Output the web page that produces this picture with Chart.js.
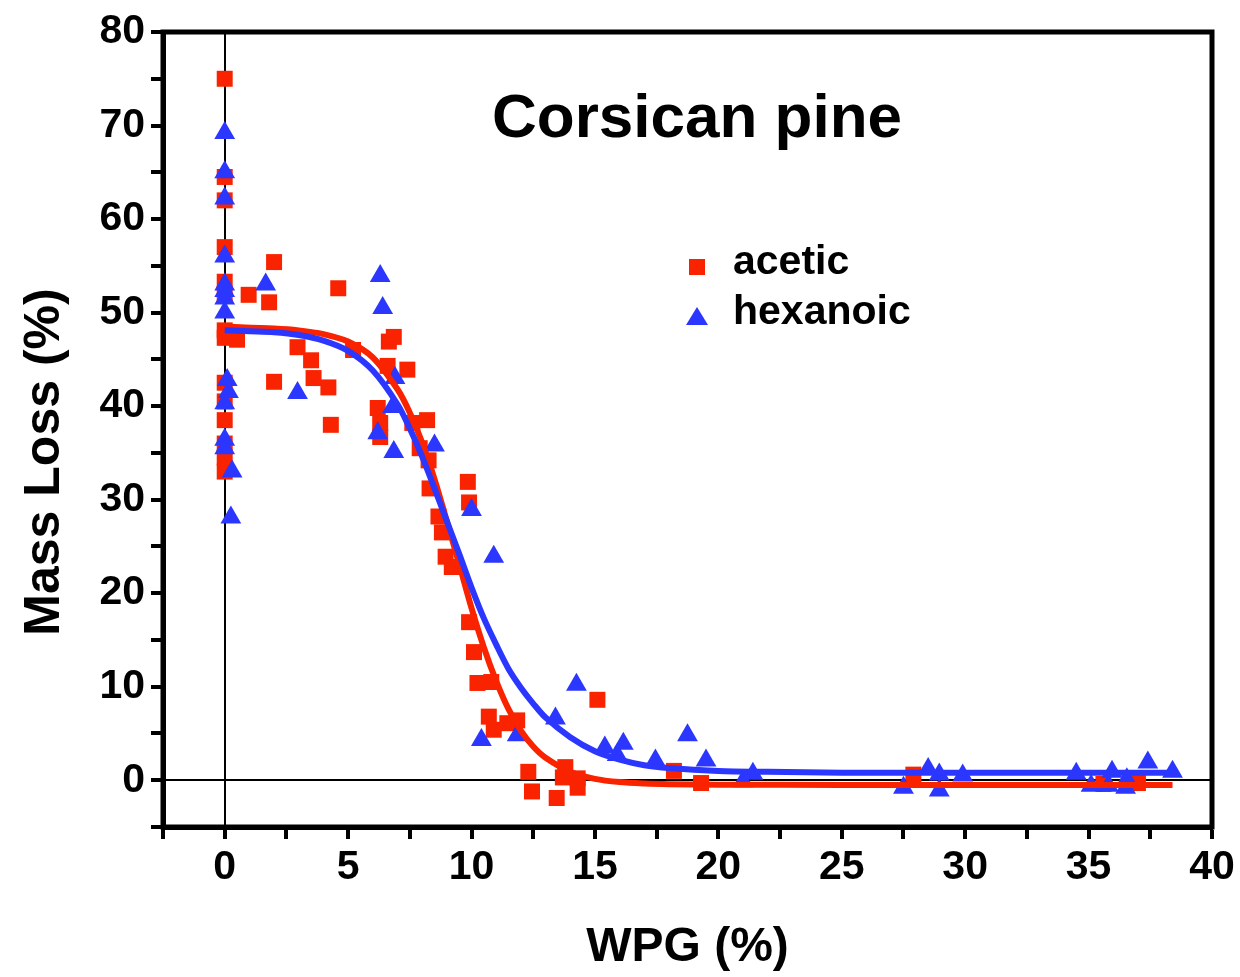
<!DOCTYPE html>
<html>
<head>
<meta charset="utf-8">
<title>Corsican pine</title>
<script src="https://cdn.jsdelivr.net/npm/chart.js@4/dist/chart.umd.min.js"></script>
<style>
  html, body { margin: 0; padding: 0; background: #fff; }
  canvas { display: block; }
</style>
</head>
<body>
<canvas id="mlChart" width="1240" height="977"></canvas>
<script>
// Data
const aceticX = [0, 0, 0, 0, 0, 0, 0, 0, 0, 0, 0, 0, 0, 0,
  0.5, 0.97, 1.8, 2.0, 2.0, 2.95, 3.5, 3.6, 4.2, 4.3, 4.6, 5.2, 6.2, 6.3, 6.3, 6.6, 6.65, 6.85,
  7.4, 7.6, 7.9, 8.2, 8.26, 8.3, 8.66, 8.8, 8.95, 9.2, 9.85, 9.9, 9.9, 10.1, 10.24, 10.8, 10.7,
  10.9, 11.45, 11.85, 12.3, 12.45, 13.45, 13.8, 13.7, 14.3, 14.3, 15.1, 18.2, 19.3, 27.9, 35.6, 37.0];
const aceticY = [75, 64.5, 62, 57, 53.3, 52, 48.1, 47.3, 42.5, 40.5, 38.5, 36, 34.5, 33,
  47.1, 51.9, 51.1, 55.4, 42.6, 46.3, 44.9, 43.0, 42.0, 38.0, 52.6, 46.0, 39.8, 38.2, 36.7, 44.3, 46.9, 47.4,
  43.9, 38.2, 35.5, 38.5, 34.2, 31.2, 28.2, 26.5, 23.9, 22.8, 31.9, 29.7, 16.9, 13.7, 10.4, 10.5, 6.8,
  5.4, 6.1, 6.4, 0.9, -1.2, -1.9, 1.4, 0.3, 0.2, -0.8, 8.6, 1.0, -0.3, 0.6, -0.4, -0.3];

const hexX = [0, 0, 0, 0, 0, 0, 0, 0, 0.1, 0.15, 0, 0, 0,
  0.3, 0.25, 1.66, 2.95, 6.2, 6.3, 6.4, 6.85, 6.8, 6.9, 8.5, 10.0, 10.9, 10.4, 11.85, 13.4, 14.25,
  15.4, 15.9, 16.15, 17.45, 18.75, 19.5, 21.0, 21.4, 27.5, 28.5, 28.95, 28.95, 29.9, 34.5, 35.1,
  35.8, 35.95, 36.5, 36.55, 37.4, 38.4];
const hexY = [69.2, 65.0, 62.2, 56.0, 53.0, 52.3, 51.5, 50.0, 42.8, 41.5, 40.3, 36.4, 35.5,
  33.0, 28.1, 53.0, 41.4, 37.1, 53.9, 50.5, 35.1, 39.9, 43.0, 35.8, 28.9, 23.9, 4.3, 4.8, 6.6, 10.2,
  3.5, 2.7, 3.9, 2.1, 4.8, 2.1, -0.1, 0.7, -0.8, 1.2, 0.6, -1.1, 0.5, 0.7, -0.6,
  -0.6, 0.9, -0.8, 0.1, 1.9, 0.9];

// fitted curves
const aceticFitX = [0, 2, 3, 4, 5, 6, 7, 7.5, 8, 8.5, 9, 9.5, 10, 10.5, 11, 11.5, 12, 12.5, 13, 14, 15, 16, 17, 18, 20, 25, 30, 38.4];
const aceticFitY = [48.5, 48.3, 48.1, 47.7, 46.9, 45.2, 41.8, 39.3, 36.1, 32.2, 27.7, 23.1, 18.4, 14.2, 10.6, 7.6, 5.3, 3.6, 2.4, 0.9, 0.15, -0.2, -0.35, -0.42, -0.48, -0.5, -0.5, -0.5];
const hexFitX = [0, 1, 2, 3, 4, 5, 6, 7, 7.5, 8, 8.5, 9, 9.5, 10, 10.5, 11, 11.5, 12, 12.5, 13, 14, 15, 16, 17, 18, 20, 22, 25, 30, 38.4];
const hexFitY = [48.1, 48.0, 47.9, 47.6, 47.0, 45.9, 43.8, 40.2, 37.6, 34.6, 31.2, 27.7, 24.2, 20.6, 17.3, 14.5, 11.9, 9.9, 8.2, 6.7, 4.6, 3.1, 2.2, 1.6, 1.3, 1.0, 0.9, 0.8, 0.8, 0.8];

const xTicksMin = -2.5, xTicksMax = 40, xStep = 2.5;
const yTicksMin = -5, yTicksMax = 80, yStep = 5;

const RED = '#fa2300';
const BLUE = '#2b36ff';
const FONT = '"Liberation Sans", Arial, sans-serif';

const pts = (xs, ys) => xs.map((x, i) => ({ x: x, y: ys[i] }));

// frame, title, y title and legend
const decorations = {
  id: 'decorations',
  afterDraw(chart) {
    const { ctx, chartArea: a } = chart;
    ctx.save();
    ctx.strokeStyle = '#000';
    ctx.lineWidth = 5;
    ctx.strokeRect(a.left, a.top, a.right - a.left, a.bottom - a.top);

    ctx.fillStyle = '#000';
    ctx.textBaseline = 'middle';
    ctx.textAlign = 'center';
    ctx.font = 'bold 62px ' + FONT;
    ctx.fillText('Corsican pine', a.left + 534, a.top + 88);

    // y axis title
    ctx.save();
    ctx.translate(45, 462);
    ctx.rotate(-Math.PI / 2);
    ctx.font = 'bold 50px ' + FONT;
    ctx.fillText('Mass Loss (%)', 0, 0);
    ctx.restore();

    // legend
    const lx = a.left + 534, ly1 = a.top + 235, ly2 = a.top + 285;
    ctx.fillStyle = RED;
    ctx.fillRect(lx - 8, ly1 - 8, 16, 16);
    ctx.fillStyle = BLUE;
    ctx.beginPath();
    ctx.moveTo(lx, ly2 - 10);
    ctx.lineTo(lx + 11, ly2 + 8);
    ctx.lineTo(lx - 11, ly2 + 8);
    ctx.closePath();
    ctx.fill();

    ctx.fillStyle = '#000';
    ctx.textAlign = 'left';
    ctx.font = 'bold 41px ' + FONT;
    ctx.fillText('acetic', lx + 36, ly1 - 4);
    ctx.fillText('hexanoic', lx + 36, ly2 - 4);
    ctx.restore();
  }
};

const zeroGrid = {
  drawOnChartArea: true,
  color: (c) => (c.tick && c.tick.value === 0 ? '#000' : 'rgba(0,0,0,0)'),
  lineWidth: 2,
  tickColor: '#000',
  tickLength: 12,
  tickWidth: 4
};

new Chart(document.getElementById('mlChart'), {
  type: 'scatter',
  data: {
    datasets: [
      {
        label: 'hexanoic fit', data: pts(hexFitX, hexFitY), showLine: true,
        borderColor: BLUE, borderWidth: 6, pointRadius: 0, tension: 0.3, order: 1
      },
      {
        label: 'acetic fit', data: pts(aceticFitX, aceticFitY), showLine: true,
        borderColor: RED, borderWidth: 6, pointRadius: 0, tension: 0.3, order: 2
      },
      {
        label: 'hexanoic', data: pts(hexX, hexY), pointStyle: 'triangle',
        pointRadius: 12, backgroundColor: BLUE, borderColor: BLUE, borderWidth: 0, order: 3
      },
      {
        label: 'acetic', data: pts(aceticX, aceticY), pointStyle: 'rect',
        pointRadius: 11.3, backgroundColor: RED, borderColor: RED, borderWidth: 0, order: 4
      }
    ]
  },
  options: {
    responsive: false,
    animation: false,
    events: [],
    layout: { padding: { left: 0, right: 28, top: 32, bottom: 0 } },
    plugins: { legend: { display: false }, tooltip: { enabled: false } },
    scales: {
      x: {
        type: 'linear', min: xTicksMin, max: xTicksMax,
        afterFit: (s) => { s.height = 150; },
        ticks: {
          stepSize: xStep, autoSkip: false, maxRotation: 0, color: '#000', padding: 4,
          font: { family: FONT, size: 41, weight: 'bold' },
          callback: (v) => (Math.abs(v % 5) < 1e-6 ? v : '')
        },
        grid: zeroGrid,
        border: { display: true, color: '#000', width: 5 },
        title: {
          display: true, text: 'WPG (%)', color: '#000',
          font: { family: FONT, size: 48, weight: 'bold' }, padding: { top: 0, bottom: 0 }
        }
      },
      y: {
        type: 'linear', min: yTicksMin, max: yTicksMax,
        afterFit: (s) => { s.width = 163; },
        ticks: {
          stepSize: yStep, autoSkip: false, color: '#000', padding: 6,
          font: { family: FONT, size: 41, weight: 'bold' },
          callback: (v) => (v % 10 === 0 ? v : '')
        },
        grid: zeroGrid,
        border: { display: true, color: '#000', width: 5 },
        title: { display: false }
      }
    }
  },
  plugins: [decorations]
});
</script>
</body>
</html>
